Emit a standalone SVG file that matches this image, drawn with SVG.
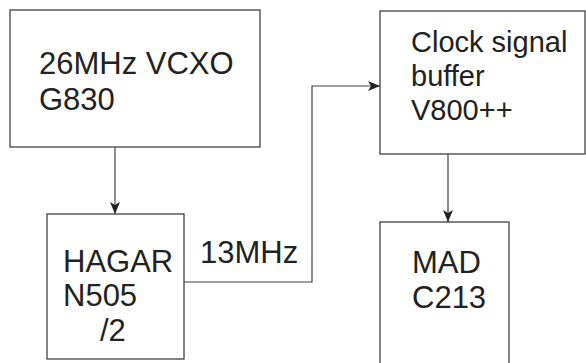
<svg xmlns="http://www.w3.org/2000/svg" width="586" height="363" viewBox="0 0 586 363">
<style>
.box{fill:#fff;stroke:#333;stroke-width:1.2}
.t{font-family:"Liberation Sans",Arial,sans-serif;font-size:31px;fill:#222}
.s{font-size:29px}
.c{fill:none;stroke:#444;stroke-width:1.2}
</style>
<defs>
<marker id="ah" viewBox="0 0 12 10" refX="12" refY="5" markerWidth="12" markerHeight="10" markerUnits="userSpaceOnUse" orient="auto">
<path d="M0,0 L12,5 L0,10 L3,5 z" fill="#222"/>
</marker>
</defs>
<rect width="586" height="363" fill="#fff"/>
<g id="vcxo">
<rect class="box" x="10" y="10" width="250" height="137"/>
<text class="t" x="39" y="74">26MHz VCXO</text>
<text class="t" x="39" y="110">G830</text>
</g>
<g id="hagar">
<rect class="box" x="47" y="214" width="137" height="145"/>
<text class="t" x="63" y="272">HAGAR</text>
<text class="t" x="63" y="306">N505</text>
<text class="t" x="100" y="341">/2</text>
</g>
<g id="buffer">
<rect class="box" x="380" y="11" width="205" height="143"/>
<text class="t s" x="411" y="52">Clock signal</text>
<text class="t s" x="411" y="86">buffer</text>
<text class="t s" x="411" y="120">V800++</text>
</g>
<g id="mad">
<rect class="box" x="380" y="222" width="129" height="150"/>
<text class="t" x="412" y="273">MAD</text>
<text class="t" x="412" y="308">C213</text>
</g>
<g id="connectors">
<path class="c" d="M115,147 V214" marker-end="url(#ah)"/>
<path class="c" d="M184,282 H312 V86 H380" marker-end="url(#ah)"/>
<path class="c" d="M448,154 V222" marker-end="url(#ah)"/>
<text class="t" x="200" y="263">13MHz</text>
</g>
</svg>
